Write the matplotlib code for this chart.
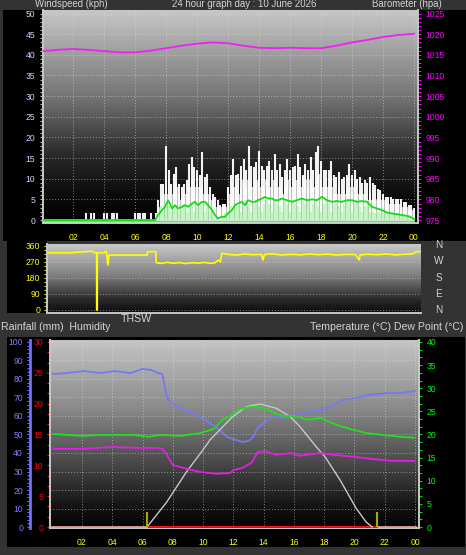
import numpy as np
import matplotlib
matplotlib.use('Agg')
import matplotlib.pyplot as plt
from matplotlib.colors import LinearSegmentedColormap
from matplotlib.patches import Rectangle
from matplotlib.ticker import MultipleLocator


W, H = 466, 555
BG = '#333333'
TXT = '#d4d4d4'
TICK_FS = 6.2

plt.rcParams['font.family'] = ['Liberation Sans', 'DejaVu Sans']

# --- wind (10 minute samples, kph) ---
gust_kph = [
    0, 0, 0, 0, 0, 0, 0, 0, 0, 0,
    0, 0, 0, 0, 0, 0, 0, 1.6, 0, 1.6,
    1.6, 0, 0, 0, 1.6, 1.6, 0, 1.6, 1.6, 1.6,
    0, 0, 0, 0, 0, 0, 1.6, 1.6, 1.6, 1.6,
    1.6, 0, 1.6, 0, 1.6, 4.8, 8.8, 8.8, 18, 12,
    8.8, 11.2, 12.8, 8.8, 8, 8.8, 9.6, 13.6, 15.2, 12.8,
    12, 11, 16.4, 10.4, 11.2, 8, 6.4, 5.6, 4.8, 3.6,
    4, 4, 8, 11, 14.8, 11, 11.2, 13, 14.8, 12,
    18, 13, 12.8, 14, 16.8, 13, 12, 13, 14.4, 12,
    16, 12, 13.6, 10.4, 12, 14.8, 12, 12.8, 13, 16,
    12.8, 11, 13.6, 12, 15.2, 12, 16.4, 18, 14.4, 12,
    12, 12, 14.4, 11, 10.4, 11.6, 10, 10.4, 11, 13.6,
    11, 12, 10, 10.4, 9, 9.6, 9, 10.4, 9, 8.4,
    7.5, 7.2, 6.4, 5.6, 5.6, 5.6, 5.2, 5.2, 5.2, 5.2,
    4.4, 4.4, 3.6, 3.6, 2.8]
gust_floor_kph = [
    0, 0, 0, 0, 0, 0, 0, 0, 0, 0,
    0, 0, 0, 0, 0, 0, 0, 0, 0, 0,
    0, 0, 0, 0, 0, 0, 0, 0, 0, 0,
    0, 0, 0, 0, 0, 0, 0, 0, 0, 0,
    0, 0, 0, 0, 0, 3.2, 4.8, 6.4, 8, 6.4,
    4.8, 6.4, 8, 6.4, 4.8, 6.4, 6.4, 8, 9.6, 8,
    6.4, 8, 8, 6.4, 6.4, 4.8, 4.8, 3.2, 3.2, 3.2,
    3.2, 3.2, 4.8, 6.4, 8, 8, 6.4, 8, 9.6, 8,
    9.6, 8, 8, 9.6, 9.6, 8, 8, 9.6, 8, 8,
    9.6, 8, 8, 6.4, 8, 9.6, 8, 8, 9.6, 9.6,
    8, 8, 9.6, 8, 9.6, 8, 9.6, 11.2, 9.6, 8,
    8, 8, 8, 6.4, 6.4, 8, 6.4, 6.4, 8, 8,
    6.4, 8, 6.4, 6.4, 6.4, 6.4, 4.8, 6.4, 4.8, 4.8,
    4.8, 4.8, 4.8, 4.8, 4, 4, 4, 4, 4, 4,
    3.2, 3.2, 2.4, 2.4, 1.6]
speed_kph = [
    0, 0, 0, 0, 0, 0, 0, 0, 0, 0,
    0, 0, 0, 0, 0, 0, 0, 0, 0, 0,
    0, 0, 0, 0, 0, 0, 0, 0, 0, 0,
    0, 0, 0, 0, 0, 0, 0, 0, 0, 0,
    0, 0, 0, 0, 0, 1.6, 3.5, 2, 3.5, 3.5,
    2, 3.5, 3.5, 2, 3.5, 4, 2, 3.5, 4, 2,
    3.5, 4, 3.5, 2, 3.5, 2, 1.6, 0.8, 0.8, 0,
    0.8, 1.6, 2, 3.5, 2, 4, 3.5, 2, 4, 4.8,
    3.5, 2, 4, 4.8, 3.5, 2, 4, 4.8, 4, 2,
    4.8, 4, 3.5, 2, 4.8, 4, 2, 4.8, 4, 3.5,
    2, 4.8, 4, 4.8, 2, 4, 4.8, 3.5, 2, 4,
    4.8, 4, 2, 4, 4.8, 3.5, 2, 4, 4.8, 4,
    2, 4, 4.8, 3.5, 2, 3.5, 4, 2, 2, 1.6,
    2, 1.6, 1.6, 2, 1.6, 1.6, 1.6, 1.2, 1.6, 1.2,
    1.2, 0.8, 1.2, 0.8, 0.8]
wind_hours = np.arange(len(gust_kph)) / 6

avg_hours = [0, 7.3, 7.48, 7.74, 7.94, 8.13, 8.39, 8.58, 8.77, 9.03, 9.23, 9.42,
             9.68, 9.87, 10.06, 10.32, 10.52, 10.71, 10.97, 11.16, 11.35, 11.61,
             11.81, 12.0, 12.26, 12.45, 12.65, 12.9, 13.1, 13.29, 13.55, 13.74,
             13.94, 14.19, 14.39, 14.58, 14.84, 15.03, 15.23, 15.48, 15.81, 16.13,
             16.45, 16.77, 17.1, 17.42, 17.74, 18.06, 18.39, 18.71, 19.03, 19.35,
             19.68, 20.0, 20.32, 20.65, 20.97, 21.29, 21.61, 21.94, 22.26, 22.58,
             22.9, 23.23, 23.55, 23.87, 24.0]
avg_kph = [0, 0, 1.2, 2.4, 3.2, 4.8, 2.8, 3.6, 2.8, 3.2, 3.6, 3.2,
           4.0, 4.4, 3.6, 4.4, 4.4, 3.6, 2.4, 1.2, 0.4, 0.8,
           0.8, 1.6, 2.4, 3.6, 4.0, 4.4, 3.6, 4.8, 4.4, 4.4,
           4.8, 5.2, 5.6, 5.2, 5.2, 4.8, 4.8, 5.2, 4.8, 4.4,
           4.8, 5.2, 4.8, 5.0, 4.8, 5.6, 4.8, 4.4, 4.6, 4.4,
           4.8, 4.8, 4.4, 4.6, 4.4, 3.2, 2.8, 2.4, 1.8, 1.6,
           1.4, 1.2, 1.0, 0.6, 0.2]

baro_hours = list(range(25))
baro_hpa = [1015.9, 1016.2, 1016.4, 1016.2, 1015.9, 1015.6, 1015.6, 1016.0, 1016.6,
            1017.2, 1017.7, 1018.0, 1017.8, 1017.2, 1016.7, 1016.6, 1016.7, 1016.6,
            1016.6, 1017.2, 1018.0, 1018.6, 1019.3, 1019.8, 1020.1]

# --- wind direction ---
dir_hours = [0.0, 1.5, 2.95, 3.1, 3.22, 3.22, 3.26, 3.26, 3.7, 3.85,
             3.95, 4.02, 4.1, 5.0, 6.0, 6.5, 6.52, 7.05, 7.08, 7.4,
             7.8, 8.2, 8.6, 9.0, 9.4, 9.8, 10.2, 10.6, 10.9, 11.1,
             11.25, 11.33, 11.8, 12.3, 12.8, 13.3, 13.9, 14.0, 14.1, 14.6,
             15.2, 15.8, 16.4, 17.0, 17.6, 18.2, 18.8, 19.4, 20.0, 20.25,
             20.3, 20.35, 20.8, 21.4, 22.0, 22.6, 23.2, 23.7, 23.95, 24.2]
dir_deg = [322, 322, 331, 322, 322, 0, 0, 322, 322, 331,
           253, 309, 309, 309, 309, 309, 328, 328, 266, 262,
           268, 263, 267, 261, 266, 264, 268, 262, 266, 281,
           270, 319, 312, 309, 315, 311, 313, 281, 312, 316,
           309, 313, 310, 315, 311, 314, 309, 313, 312, 281,
           312, 310, 314, 311, 315, 310, 313, 316, 328, 328]
compass = ['N', 'W', 'S', 'E', 'N']

# --- temperature / humidity / rain ---
hum_hours = [0.1, 1.0, 2.1, 3.2, 4.2, 5.2, 6.0, 6.6, 7.0, 7.3,
             7.45, 7.6, 7.8, 8.5, 9.1, 9.8, 10.45, 11.1, 11.6, 12.0,
             12.6, 13.0, 13.3, 13.6, 14.0, 14.6, 15.3, 16.1, 16.7, 17.3,
             17.8, 18.4, 19.2, 20.1, 21.0, 22.1, 23.0, 24.0]
hum_pct = [82.7, 83.2, 84.3, 83.2, 84.3, 83.2, 85.4, 84.9, 83.2, 82.7,
           77, 70.3, 67.6, 64.3, 62.2, 59.5, 56.2, 52.4, 48.6, 47.5,
           46, 46.5, 48.6, 53.5, 56.2, 59.5, 58.9, 60.5, 61.5, 63.2,
           62.7, 64.9, 68.6, 69.7, 71.4, 72.4, 72.4, 73.5]

temp_hours = [0.1, 2.1, 3.2, 5.4, 6.4, 7.2, 8.5, 9.8, 10.7, 11.3,
              11.8, 12.3, 12.8, 13.5, 14.2, 14.8, 15.3, 16.1, 16.8, 17.4,
              17.8, 18.2, 18.8, 19.7, 20.8, 21.9, 23.0, 24.0]
temp_c = [20.1, 19.7, 19.9, 19.9, 19.5, 19.9, 19.7, 20.3, 21.2, 23.2,
          24.0, 25.3, 25.8, 26.0, 25.5, 24.5, 24.0, 24.0, 23.2, 23.4,
          23.6, 22.9, 22.1, 21.2, 20.3, 19.9, 19.5, 19.3]

dew_hours = [0.1, 2.1, 4.0, 5.8, 6.95, 7.3, 7.6, 8.0, 8.9, 9.8,
             10.9, 11.8, 12.0, 12.6, 13.2, 13.6, 14.1, 14.8, 15.8, 16.4,
             17.7, 18.6, 19.9, 21.2, 22.5, 24.0]
dew_c = [16.9, 16.9, 17.3, 17.1, 17.1, 16.9, 15.6, 13.4, 12.6, 11.9,
         11.5, 11.7, 12.3, 12.8, 13.9, 16.2, 16.4, 15.6, 16.0, 15.4,
         16.0, 15.6, 15.2, 14.7, 14.3, 14.3]

thsw_hours = [6.3, 7.6, 8.9, 10.0, 10.45, 11.1, 11.9, 12.84, 13.76, 14.81,
              15.74, 16.4, 17.46, 18.05, 19.04, 20.1, 20.76, 21.16]
thsw_c = [0, 5.4, 11.9, 16.7, 18.8, 21.0, 23.7, 26.0, 26.6, 25.7,
          23.9, 21.7, 17.4, 15.2, 10.2, 4.1, 1.1, 0]

rain_hours = [0, 24]
rain_mm = [0, 0]
sun_hours = [6.3, 21.5]   # sunrise, sunset
sun_mark = 3.2

hour_ticks = list(range(2, 25, 2))
hour_labels = ['%02d' % (h % 24) for h in hour_ticks]


fig = plt.figure(figsize=(W / 100, H / 100), dpi=100, facecolor=BG)


def px_axes(x0, y0, x1, y1):
    return fig.add_axes([x0 / W, 1 - y1 / H, (x1 - x0) / W, (y1 - y0) / H])


def px_rect(x0, y0, x1, y1, color):
    fig.add_artist(Rectangle((x0 / W, 1 - y1 / H), (x1 - x0) / W, (y1 - y0) / H,
                             transform=fig.transFigure, color=color, lw=0, zorder=-10))


def px_text(x, y, s, **kw):
    fig.text(x / W, 1 - y / H, s, color=kw.pop('color', TXT), **kw)


def shade(ax, stops):
    cmap = LinearSegmentedColormap.from_list('shade', stops)
    ax.imshow(np.linspace(0, 1, 200).reshape(-1, 1), cmap=cmap, aspect='auto',
              extent=[0, 1, 0, 1], transform=ax.transAxes, origin='upper', zorder=0)


def frame(ax, show, color='#c8c8c8'):
    for side, sp in ax.spines.items():
        sp.set_visible(side in show)
        sp.set_color(color)
        sp.set_linewidth(1.4)


grid_kw = dict(color='#e0e0e0', linestyle=(0, (1, 2)), linewidth=0.7, alpha=0.55)

px_rect(3, 10, 466, 241, 'black')
px_rect(7, 241, 47, 313, 'black')
px_rect(7, 337, 465, 547, 'black')

# ---------------- wind / barometer ----------------
ax_w = px_axes(43, 10, 418, 223)
shade(ax_w, [(0, '#c6c6c6'), (0.4, '#767676'), (0.68, '#2a2a2a'), (0.88, '#0a0a0a'), (1, '#000000')])
ax_w.fill_between(wind_hours, gust_floor_kph, step='mid', color='#e8e8e8', alpha=0.8, lw=0, zorder=2)
ax_w.vlines(wind_hours, 0, gust_kph, color='white', lw=1.5, alpha=0.95, zorder=2)
ax_w.plot(wind_hours, [0] * len(wind_hours), color='white', lw=1.2, zorder=2)
ax_w.fill_between(wind_hours, speed_kph, step='mid', color='#8ed88e', alpha=0.55, lw=0, zorder=3)
ax_w.vlines(wind_hours, 0, speed_kph, color='#c4f6c4', lw=1.6, zorder=3)
ax_w.plot(wind_hours, [-0.5] * len(wind_hours), color='#b0ecb0', lw=1.2, zorder=3)
ax_w.plot(avg_hours, avg_kph, color='#10e010', lw=1.3, zorder=4)
ax_w.set_xlim(0.06, 24.26)
ax_w.set_ylim(-0.72, 50.85)
ax_w.set_xticks(hour_ticks)
ax_w.set_xticklabels(hour_labels)
ax_w.yaxis.set_major_locator(MultipleLocator(5))
ax_w.yaxis.set_minor_locator(MultipleLocator(1))
ax_w.tick_params(axis='x', length=0, pad=7.0, labelsize=TICK_FS, labelcolor='#ffff00')
ax_w.tick_params(axis='y', which='both', length=2.5, width=0.8, colors='#b8b8b8',
                 labelcolor='#c8d8ff', labelsize=TICK_FS, pad=3)
ax_w.set_axisbelow(True)
ax_w.grid(True, **grid_kw)
frame(ax_w, ['left', 'bottom'])

ax_b = ax_w.twinx()
ax_b.plot(baro_hours, baro_hpa, color='#f020f0', lw=1.3)
ax_b.set_ylim(974.28, 1025.85)
ax_b.yaxis.set_major_locator(MultipleLocator(5))
ax_b.yaxis.set_minor_locator(MultipleLocator(1))
ax_b.tick_params(axis='y', which='both', length=2.5, width=0.8, colors='#ff00ff',
                 labelsize=TICK_FS, pad=3)
frame(ax_b, ['right'])

px_text(35, 7.0, 'Windspeed (kph)', fontsize=6.9, va='baseline')
px_text(172, 7.0, '24 hour graph day : 10 June 2026', fontsize=6.9, va='baseline')
px_text(372, 7.0, 'Barometer (hpa)', fontsize=6.9, va='baseline')

# ---------------- wind direction ----------------
ax_d = px_axes(47, 244, 421, 313)
shade(ax_d, [(0, '#c8c8c8'), (0.45, '#808080'), (0.8, '#2a2a2a'), (1, '#0c0c0c')])
ax_d.plot(dir_hours, dir_deg, color='#ffff00', lw=1.2, zorder=3)
ax_d.set_xlim(0, 24.25)
ax_d.set_ylim(-16.9, 371.2)
ax_d.set_xticks([])
ax_d.set_yticks([0, 90, 180, 270, 360])
ax_d.yaxis.set_minor_locator(MultipleLocator(22.5))
ax_d.tick_params(axis='y', which='both', length=2.5, width=0.8, colors='#e0e000',
                 labelcolor='#ffff00', labelsize=TICK_FS, pad=2.5)
ax_d.set_axisbelow(True)
ax_d.yaxis.grid(True, **grid_kw)
frame(ax_d, ['left', 'bottom'])

for i, lab in enumerate(compass):
    px_text(439, 245 + i * 16.3, lab, fontsize=7.2, ha='center', va='center')
px_text(136, 319, 'THSW', fontsize=7.6, ha='center', va='center')
px_text(1, 327, 'Rainfall (mm)  Humidity', fontsize=7.6, va='center')
px_text(463, 327, 'Temperature (°C) Dew Point (°C)', fontsize=7.6, ha='right', va='center')

# ---------------- temperature / humidity / rain ----------------
ax_h = px_axes(50, 340, 419, 528)
shade(ax_h, [(0, '#c4c4c4'), (0.35, '#8c8c8c'), (0.65, '#4a4a4a'), (0.9, '#111111'), (1, '#050505')])
ax_h.plot(hum_hours, hum_pct, color='#7878f0', lw=1.3, zorder=3)
ax_h.set_xlim(-0.11, 24.26)
ax_h.set_ylim(-0.54, 101.08)
ax_h.set_xticks(hour_ticks)
ax_h.set_xticklabels(hour_labels)
ax_h.yaxis.set_major_locator(MultipleLocator(10))
ax_h.yaxis.set_minor_locator(MultipleLocator(2))
ax_h.tick_params(axis='x', length=0, pad=7.0, labelsize=TICK_FS, labelcolor='#ffff00')
ax_h.tick_params(axis='y', which='both', length=2.5, width=0.8, colors='#7070ff',
                 labelcolor='#8080ff', labelsize=TICK_FS, pad=2.5)
ax_h.set_axisbelow(True)
ax_h.grid(True, **grid_kw)
frame(ax_h, ['left', 'bottom'])
ax_h.spines['left'].set_position(('outward', 14.4))
ax_h.spines['left'].set_color('#7070ff')
ax_h.spines['left'].set_linewidth(2)

ax_r = ax_h.twinx()
ax_r.yaxis.tick_left()
ax_r.plot(rain_hours, rain_mm, color='#e0a0a0', lw=2, zorder=3)
ax_r.hlines(0, sun_hours[0], sun_hours[1], color='#ff0000', lw=2, zorder=4)
ax_r.set_ylim(-0.162, 30.324)
ax_r.yaxis.set_major_locator(MultipleLocator(5))
ax_r.yaxis.set_minor_locator(MultipleLocator(5 / 3))
ax_r.tick_params(axis='y', which='both', length=2.5, width=0.8, colors='#e02020',
                 labelcolor='#ff0000', labelsize=TICK_FS, pad=2.5)
frame(ax_r, ['left'])

ax_t = ax_h.twinx()
ax_t.plot(thsw_hours, thsw_c, color='#c8c8c8', lw=1.0, zorder=2)
ax_t.plot(temp_hours, temp_c, color='#20e020', lw=1.3, zorder=3)
ax_t.plot(dew_hours, dew_c, color='#e020e0', lw=1.3, zorder=3)
ax_t.vlines(sun_hours, 0, sun_mark, color='#a8a800', lw=1.5, zorder=4)
ax_t.set_ylim(-0.216, 40.432)
ax_t.yaxis.set_major_locator(MultipleLocator(5))
ax_t.yaxis.set_minor_locator(MultipleLocator(5 / 3))
ax_t.tick_params(axis='y', which='both', length=2.5, width=0.8, colors='#00e000',
                 labelcolor='#00ff00', labelsize=TICK_FS, pad=3)
frame(ax_t, ['right'])

fig.savefig('out.png', dpi=100, facecolor=BG)
